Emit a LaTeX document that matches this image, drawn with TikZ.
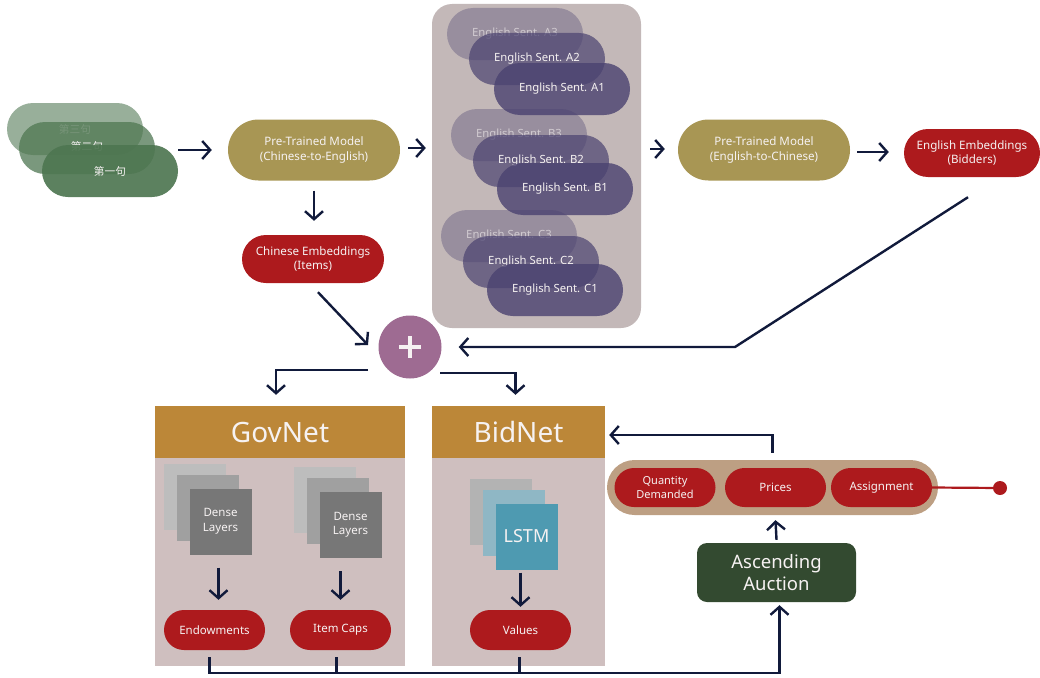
\documentclass[tikz,border=0pt]{standalone}
\usepackage{fontspec}
\setmainfont{Noto Sans}
\newfontfamily\cjk{Noto Sans CJK SC}
\usetikzlibrary{arrows.meta,shapes.misc}
\definecolor{navy}{HTML}{111A3B}
\definecolor{zhgreen}{HTML}{4E7651}
\definecolor{khaki}{HTML}{A89654}
\definecolor{slate}{HTML}{4A4270}
\definecolor{bigbox}{HTML}{C3B8B8}
\definecolor{embred}{HTML}{AD1A1D}
\definecolor{plum}{HTML}{9E6B92}
\definecolor{gold}{HTML}{BC8738}
\definecolor{pinkgray}{HTML}{CFBFBF}
\definecolor{aucgreen}{HTML}{334A30}
\definecolor{tan}{HTML}{BD9F83}
\definecolor{teal}{HTML}{4E9AB1}
\definecolor{lteal}{HTML}{8FB7C5}
\definecolor{txt}{HTML}{F6F2F2}
\tikzset{
  arr/.style={draw=navy, line width=2.4pt, -{Straight Barb[length=8pt,width=18pt]}},
  ln/.style={draw=navy, line width=2.4pt},
  pill/.style={shape=rounded rectangle, rounded rectangle arc length=180, draw=none, text=txt, align=center, inner sep=0pt},
  fs/.style={font=\fontsize{#1}{14.5}\selectfont},
  zhpill/.style={pill, fill=zhgreen, minimum width=136pt, minimum height=52pt, fs=10.7},
  enpill/.style={pill, fill=slate, minimum width=136pt, minimum height=52pt, fs=11.3},
  model/.style={pill, fill=khaki, minimum width=172pt, minimum height=61pt, fs=11.6},
  emb/.style={pill, fill=embred, minimum width=142pt, minimum height=48pt, fs=11.6},
  outp/.style={pill, fill=embred, minimum width=101pt, minimum height=40pt, fs=11.5},
  sq/.style={rectangle, draw=none, minimum width=62pt, minimum height=66pt, text=txt, align=center, inner sep=0pt},
  head/.style={rectangle, fill=gold, text=txt, minimum height=52pt, inner sep=0pt, font=\fontsize{28}{32}\selectfont},
  body/.style={rectangle, fill=pinkgray, inner sep=0pt},
}
\begin{document}
\begin{tikzpicture}[x=1pt,y=-1pt]
\useasboundingbox (0,0) rectangle (1040,677);

% Chinese sentences
\node[zhpill, fill opacity=0.58, text opacity=1] (zh3) at (75,129) {\raisebox{1pt}{\cjk 第三句}};
\node[zhpill, fill opacity=0.75, text opacity=1] (zh2) at (87,148) {\raisebox{5pt}{\cjk 第二句}};
\node[zhpill, fill opacity=0.92, text opacity=1] (zh1) at (110,171) {\cjk 第一句};

% models
\node[model] (c2e) at (314,150) {Pre-Trained Model\\(Chinese-to-English)};
\node[model] (e2c) at (764,150) {Pre-Trained Model\\(English-to-Chinese)};

% English sentence box
\node[rectangle, rounded corners=20pt, fill=bigbox, minimum width=209pt, minimum height=324pt, inner sep=0pt] (engbox) at (536.5,166) {};
\node[enpill, fill opacity=0.35, text opacity=0.6] (a3) at (515,34) {English Sent. A3};
\node[enpill, fill opacity=0.7, text opacity=1] (a2) at (537,59) {English Sent. A2};
\node[enpill, fill opacity=0.8, text opacity=1] (a1) at (562,89) {English Sent. A1};
\node[enpill, fill opacity=0.35, text opacity=0.6] (b3) at (519,135) {English Sent. B3};
\node[enpill, fill opacity=0.7, text opacity=1] (b2) at (541,161) {English Sent. B2};
\node[enpill, fill opacity=0.8, text opacity=1] (b1) at (565,189) {English Sent. B1};
\node[enpill, fill opacity=0.35, text opacity=0.6] (c3) at (509,236) {English Sent. C3};
\node[enpill, fill opacity=0.7, text opacity=1] (c2) at (531,262) {English Sent. C2};
\node[enpill, fill opacity=0.8, text opacity=1] (c1) at (555,290) {English Sent. C1};

% embeddings
\node[emb, minimum width=136pt] (embB) at (972,153) {English Embeddings\\(Bidders)};
\node[emb] (embC) at (313,259) {Chinese Embeddings\\(Items)};

% plus
\node[circle, fill=plum, minimum size=63pt, inner sep=0pt] (plus) at (410,347) {};
\draw[txt, line width=3.6pt] ([shift={(-11,0)}]plus.center) -- ([shift={(11,0)}]plus.center);
\draw[txt, line width=3.6pt] ([shift={(0,-11)}]plus.center) -- ([shift={(0,11)}]plus.center);

% top arrows
\draw[arr] (zh1.east |- c2e.west) -- ([shift={(-16,0)}]c2e.west);
\draw[arr, shorten <=8pt, shorten >=6pt] ([shift={(0,-2)}]c2e.east) -- ([shift={(0,-2)}]engbox.west |- c2e.east);
\draw[arr, shorten <=9pt, shorten >=13pt] ([shift={(0,-1)}]engbox.east |- e2c.west) -- ([shift={(0,-1)}]e2c.west);
\draw[arr, shorten <=7pt, shorten >=15pt] ([shift={(0,2)}]e2c.east) -- ([shift={(0,2)}]embB.west |- e2c.east);
\draw[arr, shorten <=10pt, shorten >=14pt] (c2e.south) -- (c2e.south |- embC.north);
\draw[arr] ([shift={(5,9)}]embC.south) -- ([shift={(-42,-2)}]plus.center);
\coordinate (bend) at (735,347);
\draw[arr] ([shift={(-4,20)}]embB.south) -- (bend) -- ([shift={(17,0)}]plus.east);

% GovNet / BidNet boxes
\node[head, minimum width=250pt] (govh) at (280,432) {GovNet};
\node[body, minimum width=250pt, minimum height=208pt, anchor=north] (govb) at (govh.south) {};
\node[head, minimum width=173pt] (bidh) at (518.5,432) {BidNet};
\node[body, minimum width=173pt, minimum height=208pt, anchor=north] (bidb) at (bidh.south) {};

\draw[arr] ([shift={(-42,23)}]plus.center) -| ([shift={(-4,-11)}]govh.north);
\draw[arr] ([shift={(30,26)}]plus.center) -| ([shift={(-3,-11)}]bidh.north);

% dense layer stacks
\node[sq, fill={rgb,255:red,189;green,189;blue,189}] (d1a) at (195,496.5) {};
\node[sq, fill={rgb,255:red,160;green,160;blue,160}] (d1b) at (208,508) {};
\node[sq, fill={rgb,255:red,119;green,119;blue,119}, fs=11.5] (d1c) at (220.5,521.5) {Dense\\Layers};
\node[sq, fill={rgb,255:red,189;green,189;blue,189}] (d2a) at (325,499.5) {};
\node[sq, fill={rgb,255:red,160;green,160;blue,160}] (d2b) at (338,511) {};
\node[sq, fill={rgb,255:red,119;green,119;blue,119}, fs=11.5] (d2c) at (350.5,525) {Dense\\Layers};
\node[sq, fill={rgb,255:red,179;green,179;blue,179}] (l1) at (501,511.5) {};
\node[sq, fill=lteal] (l2) at (514,522.5) {};
\node[sq, fill=teal, font=\fontsize{18}{20}\selectfont] (l3) at (526.5,536.5) {LSTM};

% outputs
\node[outp] (endow) at (214.5,630) {Endowments};
\node[outp] (icap) at (340.5,630) {Item Caps};
\node[outp] (vals) at (520.5,630) {Values};

\draw[arr, shorten <=13pt, shorten >=10pt] ([shift={(-2,0)}]d1c.south) -- ([shift={(-2,0)}]d1c.south |- endow.north);
\draw[arr, shorten <=13pt, shorten >=10pt] (icap.north |- d2c.south) -- (icap.north);
\draw[arr, shorten <=3pt, shorten >=3pt] (vals.north |- l3.south) -- (vals.north);

% auction
\node[rectangle, rounded corners=10pt, fill=aucgreen, text=txt, minimum width=159pt, minimum height=59pt, align=center, inner sep=0pt, font=\fontsize{18.5}{22}\selectfont] (auc) at (776.5,572.5) {Ascending\\Auction};

\node[pill, fill=tan, minimum width=331pt, minimum height=55pt] (tanbox) at (772.5,487.5) {};
\node[outp, fs=11, minimum height=39pt] (qd) at (665,487.5) {Quantity\\Demanded};
\node[outp, minimum height=39pt] (prices) at (775.5,487.5) {Prices};
\node[outp, minimum height=39pt] (assign) at (881.5,487.5) {Assignment};
\node[circle, fill=embred, minimum size=14pt, inner sep=0pt] (dot) at (1000,488) {};
\draw[embred, line width=2.2pt] (assign.east) -- (dot.center);

\draw[arr] ([shift={(0,-3)}]auc.north) -- ([shift={(0,13)}]prices.south);
\draw[arr] ([shift={(0,-7)}]tanbox.north) |- ([shift={(4,3)}]bidh.east);

% bottom bus
\draw[arr] ([shift={(-5,7)}]endow.south) |- ([shift={(3,71)}]auc.south) -- ([shift={(3,3)}]auc.south);
\draw[ln] ([shift={(-4,7)}]icap.south) -- ++(0,16);
\draw[ln] ([shift={(-1,7)}]vals.south) -- ++(0,16);
\end{tikzpicture}
\end{document}
